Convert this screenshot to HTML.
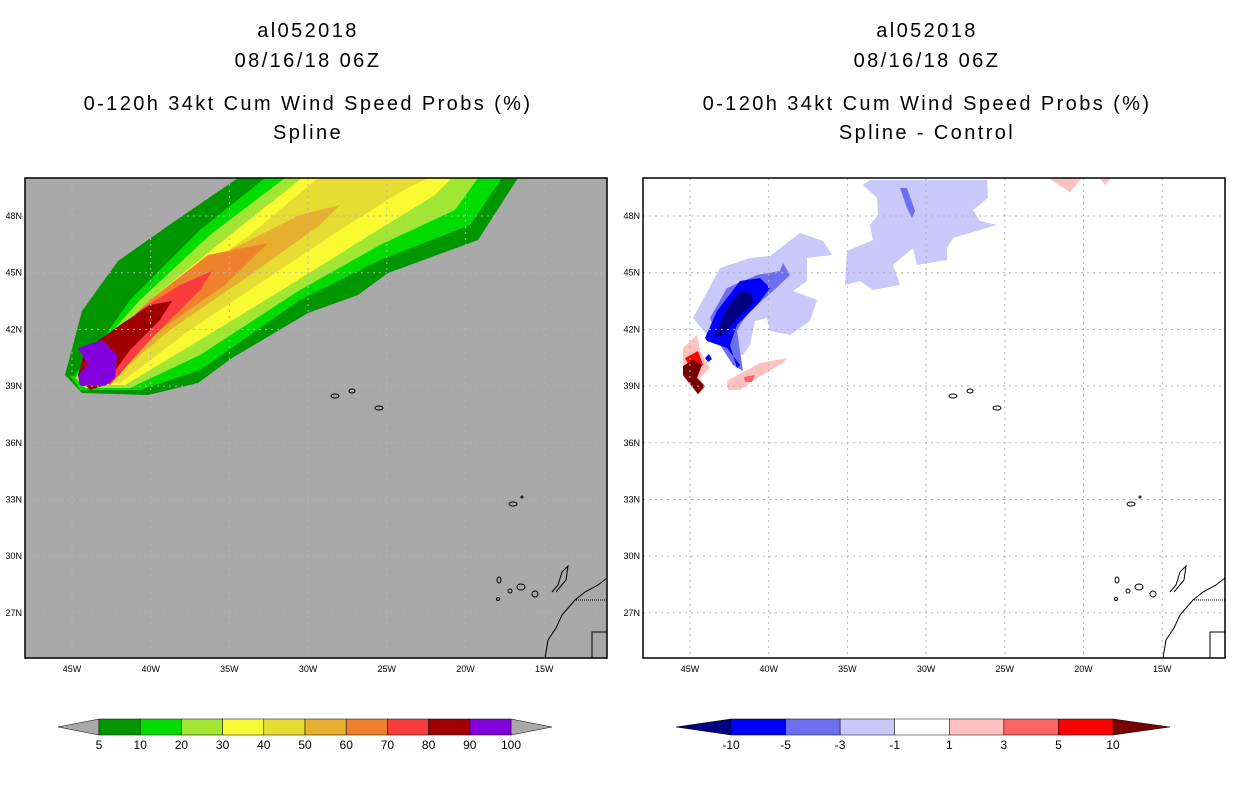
<!DOCTYPE html>
<html><head><meta charset="utf-8"><style>
body{margin:0;background:#fff;width:1236px;height:800px;overflow:hidden;font-family:"Liberation Sans",sans-serif}
svg{position:absolute;left:0;top:0}
</style></head><body>
<svg id="s" width="1236" height="800">
<g font-family="Liberation Sans, sans-serif" font-size="20" text-anchor="middle" fill="#000" letter-spacing="2.4">
<text x="308" y="37">al052018</text>
<text x="308" y="67">08/16/18 06Z</text>
<text x="308" y="110">0-120h 34kt Cum Wind Speed Probs (%)</text>
<text x="308" y="139">Spline</text>
<text x="927" y="37">al052018</text>
<text x="927" y="67">08/16/18 06Z</text>
<text x="927" y="110">0-120h 34kt Cum Wind Speed Probs (%)</text>
<text x="927" y="139">Spline - Control</text>
</g>
<g>
<rect x="25" y="178" width="582" height="480" fill="#a9a9a9"/>
<g>
<polygon fill="#009600" points="238,178 175,221 118,261 82,311 65,375 82,393 148,395 198,383 232,358 308,313 358,295 388,273 478,240 518,178"/>
<polygon fill="#00dc00" points="265,178 200,230 130,300 95,350 72,378 80,390 140,390 200,370 300,300 380,260 470,225 502,178"/>
<polygon fill="#a0e632" points="285,178 210,235 140,300 100,345 75,378 85,388 130,388 200,355 300,290 380,245 455,210 478,178"/>
<polygon fill="#fafa32" points="302,178 230,235 150,300 105,345 80,375 90,385 125,385 200,340 290,285 370,235 435,195 452,178"/>
<polygon fill="#e6dc32" points="318,178 250,235 160,298 110,340 85,370 95,383 120,383 190,330 280,270 340,230 400,192 428,178"/>
<polygon fill="#e6af2d" points="340,205 300,215 230,250 150,310 95,360 88,375 110,380 170,330 250,275 320,225"/>
<polygon fill="#f0822d" points="268,243 208,255 150,300 100,350 92,372 108,378 160,330 225,285"/>
<polygon fill="#fa3c3c" points="212,271 180,285 140,310 95,355 95,375 110,385 150,340 200,290"/>
<polygon fill="#a00000" points="172,301 150,305 120,325 85,350 78,375 90,390 105,385 130,350 160,320"/>
<polygon fill="#8200dc" points="78,348 102,340 117,355 115,378 105,386 80,386 78,375 88,365"/>
</g>
<g id="grid-left"></g>
<g id="coast-left" fill="none" stroke="#000" stroke-width="1"></g>
<rect x="25" y="178" width="582" height="480" fill="none" stroke="#000" stroke-width="1.5"/>
<g id="ax-left" font-size="9" font-family="Liberation Sans, sans-serif"></g>
</g>
<g>
<rect x="643" y="178" width="582" height="480" fill="#fff"/>
<g>
<polygon fill="#c8c8fa" points="693,318 720,268 750,258 770,256 800,233 823,241 832,255 807,258 807,281 793,291 817,300 810,321 790,335 770,331 767,318 755,321 750,345 743,355 727,351 707,335"/>
<polygon fill="#c8c8fa" points="863,185 870,180 987,180 988,198 973,210 980,221 997,225 953,238 947,248 947,260 917,265 913,248 893,265 900,285 873,290 860,281 845,285 847,251 873,240 870,225 878,215 877,198"/>
<polygon fill="#6e6ef0" points="710,318 727,288 757,275 780,271 783,263 790,275 773,291 750,311 740,325 737,331 740,351 743,371 733,365 720,345"/>
<polygon fill="#6e6ef0" points="900,188 907,188 915,211 912,218 907,208"/>
<polygon fill="#0000ff" points="705,338 717,311 740,281 760,278 770,288 757,305 737,325 730,345 737,368 740,365 727,348 707,341"/>
<polygon fill="#0000ff" points="705,358 709,354 712,359 708,362"/>
<polygon fill="#000080" points="715,336 727,308 740,291 752,293 753,303 737,318 723,336"/>
<polygon fill="#ffc0c0" points="683,348 697,335 700,351 710,368 700,378 705,388 698,395 683,376"/>
<polygon fill="#ffc0c0" points="727,381 760,363 787,358 783,363 757,378 740,390 728,390"/>
<polygon fill="#ffc0c0" points="1048,178 1082,178 1070,192"/>
<polygon fill="#ffc0c0" points="1100,178 1111,178 1105,185"/>
<polygon fill="#fa6464" points="744,377 755,375 752,382 745,382"/>
<polygon fill="#ff0000" points="685,358 698,351 703,365 692,371"/>
<polygon fill="#780000" points="683,366 693,360 702,365 697,378 705,386 698,394 683,375"/>
</g>
<g id="grid-right"></g>
<g id="coast-right" fill="none" stroke="#000" stroke-width="1"></g>
<rect x="643" y="178" width="582" height="480" fill="none" stroke="#000" stroke-width="1.5"/>
<g id="ax-right" font-size="9" font-family="Liberation Sans, sans-serif"></g>
</g>
<g id="cb-left" font-size="12" font-family="Liberation Sans, sans-serif" text-anchor="middle"></g>
<g id="cb-right" font-size="12" font-family="Liberation Sans, sans-serif" text-anchor="middle"></g>
</svg>
<script>
const lonTicks=[45,40,35,30,25,20,15];
const latTicks=[48,45,42,39,36,33,30,27];
const probLevels=["5","10","20","30","40","50","60","70","80","90","100"];
const probColors=["#009600","#00dc00","#a0e632","#fafa32","#e6dc32","#e6af2d","#f0822d","#fa3c3c","#a00000","#8200dc"];
const diffLevels=["-10","-5","-3","-1","1","3","5","10"];
const diffColors=["#0000ff","#6e6ef0","#c8c8fa","#ffffff","#ffc0c0","#fa6464","#ff0000"];
const NS="http://www.w3.org/2000/svg";
function mk(t,a,p){const e=document.createElementNS(NS,t);for(const k in a)e.setAttribute(k,a[k]);p.appendChild(e);return e;}
const lonX=(lon,off)=>off+72+(45-lon)*15.74;
const latY=lat=>216+(48-lat)*18.9;
function panel(off,gid,aid,cid){
  const g=document.getElementById(gid),a=document.getElementById(aid),c=document.getElementById(cid);
  lonTicks.forEach(l=>{const x=lonX(l,off);
    const ln=mk('line',{x1:x,x2:x,y1:178,y2:658,stroke:'#b4b4b4','stroke-dasharray':'2,4'},g);
    
    
    const t=mk('text',{x:x,y:672,'text-anchor':'middle'},a);t.textContent=l+'W';
    
    });
  latTicks.forEach(l=>{const y=latY(l);
    const ln=mk('line',{x1:25+off,x2:607+off,y1:y,y2:y,stroke:'#b4b4b4','stroke-dasharray':'2,4'},g);
    
    
    const t=mk('text',{x:22+off,y:y+3,'text-anchor':'end'},a);t.textContent=l+'N';
    
    });
  const isl=[[335,396,4,2],[352,391,3,2],[379,408,4,2],[513,504,4,2],[522,497,1,1],[499,580,2,3],[510,591,2,2],[521,587,4,3],[535,594,3,3],[498,599,1.5,1.5]];
  isl.forEach(i=>{const e=mk('ellipse',{cx:i[0]+off,cy:i[1],rx:i[2],ry:i[3]},c);
    
    });
  const p=mk('polyline',{points:[[552,592],[558,585],[562,572],[568,566],[566,580],[556,592]].map(q=>(q[0]+off)+','+q[1]).join(' ')},c);
  
  
  const cst=mk('polyline',{points:[[545,658],[548,640],[556,628],[562,615],[575,600],[585,592],[598,585],[607,578]].map(q=>(q[0]+off)+','+q[1]).join(' ')},c);
  
  
  const b=mk('polyline',{points:[[607,600],[575,600]].map(q=>(q[0]+off)+','+q[1]).join(' '),'stroke-dasharray':'1,1'},c);
  
  
  const b2=mk('polyline',{points:[[607,632],[592,632],[592,658]].map(q=>(q[0]+off)+','+q[1]).join(' ')},c);
  
  
}
panel(0,'grid-left','ax-left','coast-left');
panel(618,'grid-right','ax-right','coast-right');
(function(){const g=document.getElementById('cb-left');const x0=99,x1=511,y=719,h=16;const w=(x1-x0)/probColors.length;
  const tl=mk('polygon',{points:`58,${y+h/2} ${x0},${y} ${x0},${y+h}`,fill:'#a9a9a9',stroke:'#000','stroke-width':0.5},g);
  
  
  const tr=mk('polygon',{points:`552,${y+h/2} ${x1},${y} ${x1},${y+h}`,fill:'#a9a9a9',stroke:'#000','stroke-width':0.5},g);
  
  
  probColors.forEach((c,i)=>{const r=mk('rect',{x:x0+i*w,y:y,width:w,height:h,fill:c,stroke:'#000','stroke-width':0.5},g);
    
    });
  probLevels.forEach((l,i)=>{const t=mk('text',{x:x0+i*w,y:749},g);t.textContent=l;
    
    });
})();
(function(){const g=document.getElementById('cb-right');const x0=731,x1=1113,y=719,h=16;const w=(x1-x0)/diffColors.length;
  const tl=mk('polygon',{points:`676,${y+h/2} ${x0},${y} ${x0},${y+h}`,fill:'#000080',stroke:'#000','stroke-width':0.5},g);
  
  
  const tr=mk('polygon',{points:`1170,${y+h/2} ${x1},${y} ${x1},${y+h}`,fill:'#780000',stroke:'#000','stroke-width':0.5},g);
  
  
  diffColors.forEach((c,i)=>{const r=mk('rect',{x:x0+i*w,y:y,width:w,height:h,fill:c,stroke:'#000','stroke-width':0.5},g);
    
    });
  diffLevels.forEach((l,i)=>{const t=mk('text',{x:x0+i*w,y:749},g);t.textContent=l;
    
    });
})();
</script>
</body></html>
